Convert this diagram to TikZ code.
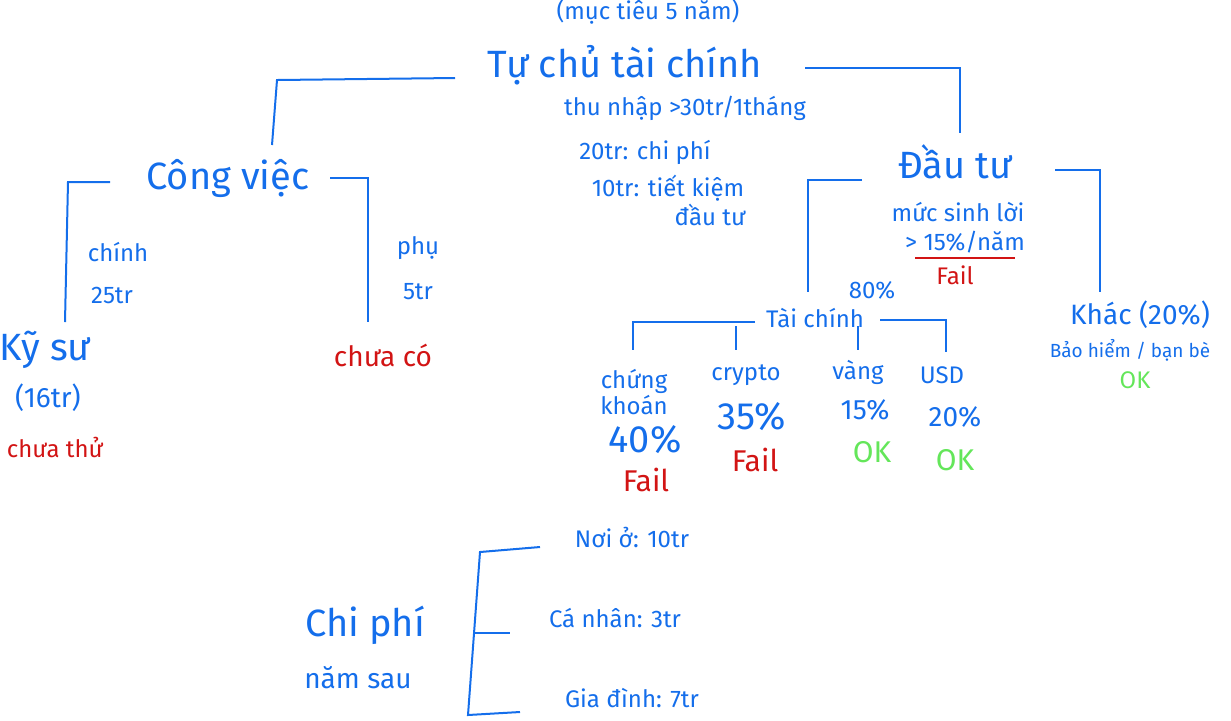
\documentclass[tikz,border=0pt]{standalone}
\usepackage{fontspec}
\setmainfont{Fira Sans}
\definecolor{pen}{RGB}{20,110,235}
\definecolor{rd}{RGB}{210,20,20}
\definecolor{gr}{RGB}{100,230,90}
\begin{document}
\begin{tikzpicture}[x=0.5pt,y=-0.5pt,
  t/.style={text=pen,font=\fontsize{12}{14}\selectfont,inner sep=1pt},
  big/.style={text=pen,font=\fontsize{19}{22}\selectfont,inner sep=1pt},
  sm/.style={text=pen,font=\fontsize{9.5}{11}\selectfont,inner sep=1pt},
  red/.style={t,text=rd},
  ok/.style={t,text=gr},
  ln/.style={draw=pen,line width=1pt}]
\useasboundingbox (0,0) rectangle (1231,720);
% texts
\node[t] (goal) at (648,12) {(mục tiêu 5 năm)};
\node[big] (root) at (625,65) {Tự chủ tài chính};
\node[t] (inc) at (685,108) {thu nhập >30tr/1tháng};
\node[t] (cost) at (645,152) {20tr: chi phí};
\node[t] (save) at (668,188) {10tr: tiết kiệm};
\node[t] (save2) at (710,215) {đầu tư};
\node[big] (job) at (228,178) {Công việc};
\node[t] (main) at (118,252) {chính};
\node[t] (main2) at (112,295) {25tr};
\node[t] (side) at (418,248) {phụ};
\node[t] (side2) at (418,292) {5tr};
\node[big] (eng) at (45,350) {Kỹ sư};
\node[t,font=\fontsize{14}{16}\selectfont] (eng2) at (48,398) {(16tr)};
\node[red] (eng3) at (55,447) {chưa thử};
\node[red,font=\fontsize{14}{16}\selectfont] (side3) at (383,355) {chưa có};
\node[big] (inv) at (955,162) {Đầu tư};
\node[t] (rate) at (958,212) {mức sinh lời};
\node[t] (rate2) at (965,242) {> 15\%/năm};
\node[red] (rate3) at (955,275) {Fail};
\node[t] (p80) at (872,290) {80\%};
\node[t] (fin) at (815,318) {Tài chính};
\node[t,align=center] (ck) at (634,392) {chứng\\[-1pt]khoán};
\node[big] (ck2) at (645,440) {40\%};
\node[red,font=\fontsize{15}{18}\selectfont] (ck3) at (646,480) {Fail};
\node[t] (cr) at (746,375) {crypto};
\node[big] (cr2) at (752,417) {35\%};
\node[red,font=\fontsize{15}{18}\selectfont] (cr3) at (755,460) {Fail};
\node[t] (va) at (858,372) {vàng};
\node[t,font=\fontsize{14}{16}\selectfont] (va2) at (865,410) {15\%};
\node[ok,font=\fontsize{15}{18}\selectfont] (va3) at (872,452) {OK};
\node[t] (usd) at (942,375) {USD};
\node[t,font=\fontsize{14}{16}\selectfont] (usd2) at (955,417) {20\%};
\node[ok,font=\fontsize{15}{18}\selectfont] (usd3) at (955,460) {OK};
\node[t,font=\fontsize{14}{16}\selectfont] (oth) at (1140,315) {Khác (20\%)};
\node[sm] (oth2) at (1130,350) {Bảo hiểm / bạn bè};
\node[ok] (oth3) at (1135,380) {OK};
\node[t] (n1) at (632,537) {Nơi ở: 10tr};
\node[t] (n2) at (615,618) {Cá nhân: 3tr};
\node[t] (n3) at (632,698) {Gia đình: 7tr};
\node[big] (cp) at (365,625) {Chi phí};
\node[t,font=\fontsize{14}{16}\selectfont] (cp2) at (358,678) {năm sau};
% lines
\draw[ln] (455,78) -- (277,80) -- (272,145);
\draw[ln] (805,68) -- (960,68) -- (960,133);
\draw[ln] (110,182) -- (68,182) -- (65,322);
\draw[ln] (330,178) -- (368,178) -- (368,322);
\draw[ln] (862,180) -- (808,180) -- (808,292);
\draw[ln] (1055,170) -- (1100,170) -- (1100,292);
\draw[ln] (755,322) -- (633,322) -- (633,350);
\draw[ln] (880,320) -- (946,320) -- (946,352);
\draw[ln] (736,326) -- (736,350);
\draw[ln] (858,326) -- (858,350);
\draw[draw=rd,line width=1pt] (915,258) -- (1015,258);
\draw[ln] (540,547) -- (480,552) -- (468,715) -- (520,712);
\draw[ln] (475,633) -- (510,633);
\end{tikzpicture}
\end{document}
